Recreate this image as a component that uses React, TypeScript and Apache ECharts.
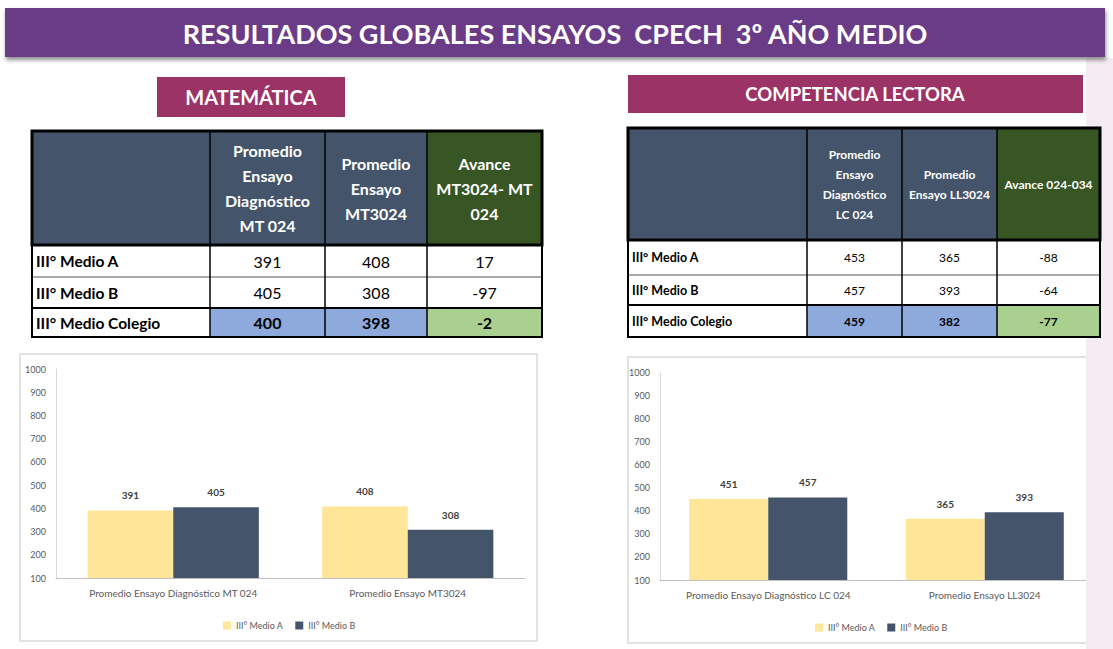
import React, { useEffect, useRef } from "react";
import * as echarts from "echarts";

const pageTitle = "RESULTADOS GLOBALES ENSAYOS  CPECH  3º AÑO MEDIO";
const mathTitle = "MATEMÁTICA";
const lecTitle = "COMPETENCIA LECTORA";

const rowLabels = ["III° Medio A", "III° Medio B", "III° Medio Colegio"];
const mathHeaders = ["Promedio\nEnsayo\nDiagnóstico\nMT 024", "Promedio\nEnsayo\nMT3024", "Avance\nMT3024- MT\n024"];
const mathDiag = [391, 405, 400];
const mathMT3 = [408, 308, 398];
const mathAvance = [17, -97, -2];

const lecHeaders = ["Promedio\nEnsayo\nDiagnóstico\nLC 024", "Promedio\nEnsayo LL3024", "Avance 024-034"];
const lecDiag = [453, 457, 459];
const lecLL3 = [365, 393, 382];
const lecAvance = [-88, -64, -77];

const mathCategories = ["Promedio Ensayo Diagnóstico MT 024", "Promedio Ensayo MT3024"];
const lecCategories = ["Promedio Ensayo Diagnóstico LC 024", "Promedio Ensayo LL3024"];
const seriesNames = ["III° Medio A", "III° Medio B"];
const mathMedioA = [391, 408];
const mathMedioB = [405, 308];
const lecMedioA = [451, 365];
const lecMedioB = [457, 393];
const yMin = 100;
const yMax = 1000;
const yStep = 100;

const FONT = "Lato, 'Open Sans', sans-serif";
const SLATE = "#44546A";
const GREEN = "#375623";
const BLUE = "#8EA9DB";
const LGREEN = "#A9D08E";
const YELLOW = "#FFE699";

function txt(x: number, y: number, text: string, size: number, weight: string, fill: string, align = "center", lh?: number) {
  return {
    type: "text",
    z: 20,
    silent: true,
    style: {
      x, y, text, fill,
      fontSize: size, fontWeight: weight, fontFamily: FONT,
      align, verticalAlign: "middle", textAlign: align, textVerticalAlign: "middle",
      lineHeight: lh || size * 1.2,
    },
  };
}

function rect(x: number, y: number, w: number, h: number, fill: string, stroke?: string, lw?: number, z = 10) {
  return {
    type: "rect", z, silent: true,
    shape: { x, y, width: w, height: h },
    style: { fill, stroke: stroke || "none", lineWidth: lw || 0 },
  };
}

function line(x1: number, y1: number, x2: number, y2: number, color: string, lw: number) {
  return {
    type: "line", z: 15, silent: true,
    shape: { x1, y1, x2, y2 },
    style: { stroke: color, lineWidth: lw },
  };
}

function buildTable(cfg: any) {
  const { colX, top, headerBottom, rowBottoms, headers, cols, headSize, headLH, cellSize, labelSize } = cfg;
  const els: any[] = [];
  const left = colX[0];
  const right = colX[colX.length - 1];
  for (let i = 0; i < 4; i++) {
    els.push(rect(colX[i], top, colX[i + 1] - colX[i], headerBottom - top, i === 3 ? GREEN : SLATE));
    if (i > 0) {
      els.push(txt((colX[i] + colX[i + 1]) / 2, (top + headerBottom) / 2, headers[i - 1], headSize, "bold", "#ffffff", "center", headLH));
    }
  }
  let prev = headerBottom;
  rowLabels.forEach((lab, r) => {
    const yb = rowBottoms[r];
    const isTotal = r === rowLabels.length - 1;
    for (let i = 0; i < 4; i++) {
      let fill = "#ffffff";
      if (isTotal && i > 0) fill = i === 3 ? LGREEN : BLUE;
      els.push(rect(colX[i], prev, colX[i + 1] - colX[i], yb - prev, fill));
    }
    const cy = (prev + yb) / 2;
    els.push(txt(left + 4, cy, lab, labelSize, "bold", "#000000", "left"));
    cols.forEach((arr: number[], i: number) => {
      els.push(txt((colX[i + 1] + colX[i + 2]) / 2, cy, String(arr[r]), cellSize, isTotal ? "bold" : "normal", "#000000"));
    });
    if (r > 0) els.push(line(left, prev, right, prev, "#555555", 1));
    prev = yb;
  });
  const bottom = rowBottoms[rowBottoms.length - 1];
  for (let i = 1; i < 4; i++) {
    els.push(line(colX[i], top, colX[i], bottom, "#000000", 1.5));
  }
  els.push({ ...rect(left, top, right - left, headerBottom - top, "none", "#000000", 3), z: 16 });
  const tTop = rowBottoms[rowBottoms.length - 2];
  els.push({ ...rect(left, tTop, right - left, bottom - tTop, "none", "#000000", 2), z: 16 });
  els.push({ ...rect(left, top, right - left, bottom - top, "none", "#000000", 2), z: 16 });
  return els;
}

export default function App() {
  const ref = useRef<HTMLDivElement>(null);
  useEffect(() => {
    if (!ref.current) return;
    const chart = echarts.init(ref.current, null, { renderer: "svg" });

    const graphics: any[] = [];
    graphics.push({ type: "rect", z: 1, silent: true, shape: { x: 1086, y: 58, width: 27, height: 591 }, style: { fill: "#F5EBF3" } });
    graphics.push({
      type: "rect", z: 5, silent: true,
      shape: { x: 5, y: 8, width: 1100, height: 49 },
      style: { fill: "#6A3A86", shadowBlur: 4, shadowOffsetY: 3, shadowOffsetX: 1, shadowColor: "rgba(0,0,0,0.45)" },
    });
    graphics.push(txt(555, 33, pageTitle, 27, "bold", "#ffffff"));
    graphics.push(rect(157, 77, 188, 40, "#9B3366", undefined, undefined, 5));
    graphics.push(txt(251, 97, mathTitle, 20, "bold", "#ffffff"));
    graphics.push(rect(628, 75, 455, 38, "#9B3366", undefined, undefined, 5));
    graphics.push(txt(855, 94, lecTitle, 18.5, "bold", "#ffffff"));

    graphics.push(...buildTable({
      colX: [32, 210, 325, 427, 542], top: 131, headerBottom: 245, rowBottoms: [277, 308, 337],
      headers: mathHeaders, cols: [mathDiag, mathMT3, mathAvance],
      headSize: 16, headLH: 25, cellSize: 16, labelSize: 15.5,
    }));
    graphics.push(...buildTable({
      colX: [628, 807, 902, 997, 1100], top: 128, headerBottom: 240, rowBottoms: [275, 305, 337],
      headers: lecHeaders, cols: [lecDiag, lecLL3, lecAvance],
      headSize: 12, headLH: 20, cellSize: 12, labelSize: 12.5,
    }));

    graphics.push({ ...rect(20, 354, 517, 287, "#ffffff", "#D9D9D9", 1.5), z: 0 });
    graphics.push({ ...rect(628, 357, 475, 286, "#ffffff", "#D9D9D9", 1.5), z: 0 });

    const xAxisBase = {
      type: "category",
      axisLine: { lineStyle: { color: "#BFBFBF", width: 1 } },
      axisTick: { show: false },
      axisLabel: { color: "#595959", fontSize: 10, fontFamily: FONT, margin: 10 },
    };
    const yAxisBase = {
      type: "value",
      min: yMin, max: yMax, interval: yStep,
      splitLine: { show: false },
      axisLine: { show: true, lineStyle: { color: "#D9D9D9" } },
      axisTick: { show: false },
      axisLabel: { color: "#595959", fontSize: 9, fontFamily: FONT, margin: 10, formatter: (v: number) => String(v) },
    };
    const labelBase = { show: true, position: "top", color: "#404040", fontSize: 10, fontWeight: "bold", fontFamily: FONT, distance: 10 };
    const barBase = { type: "bar", barGap: "0%", barCategoryGap: "27%", label: labelBase };

    chart.setOption({
      animation: false,
      backgroundColor: "#ffffff",
      graphic: { elements: graphics },
      grid: [
        { left: 56, top: 369, width: 469, height: 209 },
        { left: 660, top: 372, width: 433, height: 208 },
      ],
      xAxis: [
        { ...xAxisBase, gridIndex: 0, data: mathCategories },
        { ...xAxisBase, gridIndex: 1, data: lecCategories },
      ],
      yAxis: [
        { ...yAxisBase, gridIndex: 0 },
        { ...yAxisBase, gridIndex: 1 },
      ],
      legend: [
        { data: seriesNames, left: 218, top: 616, itemWidth: 8, itemHeight: 8, itemGap: 12, icon: "rect", textStyle: { fontSize: 9, color: "#595959", fontFamily: FONT } },
        { data: seriesNames, left: 810, top: 618, itemWidth: 8, itemHeight: 8, itemGap: 12, icon: "rect", textStyle: { fontSize: 9, color: "#595959", fontFamily: FONT } },
      ],
      series: [
        { ...barBase, name: seriesNames[0], xAxisIndex: 0, yAxisIndex: 0, data: mathMedioA, itemStyle: { color: YELLOW } },
        { ...barBase, name: seriesNames[1], xAxisIndex: 0, yAxisIndex: 0, data: mathMedioB, itemStyle: { color: SLATE } },
        { ...barBase, name: seriesNames[0], xAxisIndex: 1, yAxisIndex: 1, data: lecMedioA, itemStyle: { color: YELLOW } },
        { ...barBase, name: seriesNames[1], xAxisIndex: 1, yAxisIndex: 1, data: lecMedioB, itemStyle: { color: SLATE } },
      ],
    });
    return () => chart.dispose();
  }, []);
  return <div ref={ref} style={{ position: "absolute", left: 0, top: 0, width: 1113, height: 649 }} />;
}
